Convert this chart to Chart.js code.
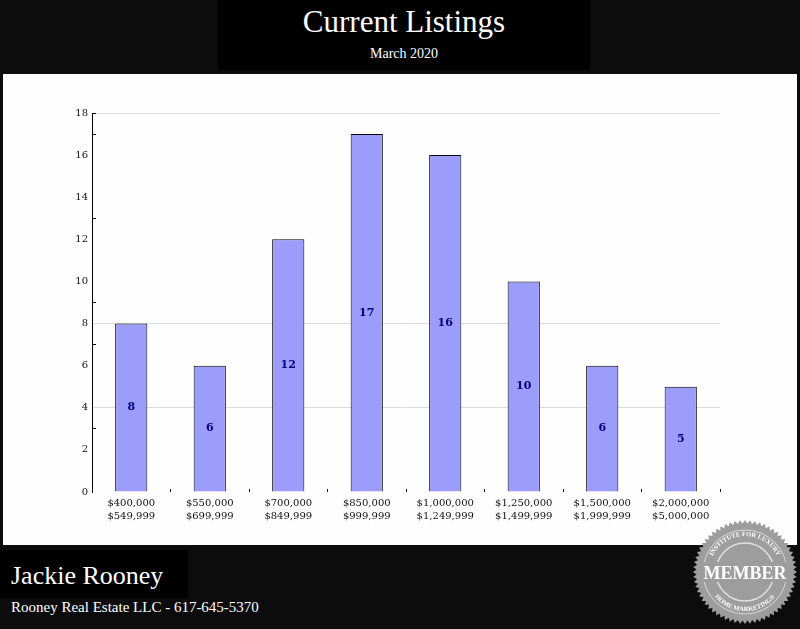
<!DOCTYPE html>
<html>
<head>
<meta charset="utf-8">
<script src="https://cdn.jsdelivr.net/npm/chart.js@4/dist/chart.umd.min.js"></script>
<style>
  html,body{margin:0;padding:0;}
  body{width:800px;height:629px;position:relative;overflow:hidden;background:#0d0c0d;font-family:"Liberation Serif",serif;}
  #titlebox{position:absolute;left:218px;top:0;width:372px;height:70px;background:#020102;color:#fff;text-align:center;}
  #title{position:absolute;left:0;right:0;top:4px;font-size:31px;line-height:36px;}
  #subtitle{position:absolute;left:0;right:0;top:46px;font-size:14px;line-height:16px;}
  #panel{position:absolute;left:3px;top:74px;width:794px;height:471px;background:#fefefe;}
  #wrap{position:absolute;left:0;top:74px;width:800px;height:471px;}
  #namebox{position:absolute;left:0;top:550px;width:188px;height:48px;background:#000;}
  #name{position:absolute;left:11px;top:561px;color:#fff;font-size:26px;line-height:30px;}
  #company{position:absolute;left:11px;top:598px;color:#fff;font-size:15px;line-height:18px;}
  #badge{position:absolute;left:692px;top:519px;width:106px;height:106px;}
</style>
</head>
<body>
<div id="titlebox"><div id="title">Current Listings</div><div id="subtitle">March 2020</div></div>
<div id="panel"></div>
<div id="wrap"><canvas id="c" width="800" height="471"></canvas></div>
<div id="namebox"></div>
<div id="name">Jackie Rooney</div>
<div id="company">Rooney Real Estate LLC - 617-645-5370</div>
<svg id="badge" viewBox="0 0 106 106">
  <defs>
    <path id="topArc" d="M 17 53 A 36 36 0 0 1 89 53"/>
    <path id="botArc" d="M 14 53 A 39 39 0 0 0 92 53"/>
  </defs>
  <polygon id="gear" fill="#9d9d9d"/>
  <circle cx="53" cy="53" r="42" fill="none" stroke="#d8d8d8" stroke-width="1"/>
  <circle cx="53" cy="53" r="29" fill="none" stroke="#e0e0e0" stroke-width="1.5"/>
  <rect x="8" y="43" width="90" height="20" fill="#9d9d9d"/>
  <text x="53" y="60" text-anchor="middle" fill="#fff" font-family="Liberation Serif" font-weight="bold" font-size="18">MEMBER</text>
  <text fill="#fff" font-family="Liberation Serif" font-size="6.5" font-weight="bold"><textPath href="#topArc" startOffset="50%" text-anchor="middle">INSTITUTE FOR LUXURY</textPath></text>
  <text fill="#fff" font-family="Liberation Serif" font-size="6.5" font-weight="bold"><textPath href="#botArc" startOffset="50%" text-anchor="middle">HOME MARKETING®</textPath></text>
</svg>
<script>
// ---- data ----
const categories = [
  ["$400,000", "$549,999"],
  ["$550,000", "$699,999"],
  ["$700,000", "$849,999"],
  ["$850,000", "$999,999"],
  ["$1,000,000", "$1,249,999"],
  ["$1,250,000", "$1,499,999"],
  ["$1,500,000", "$1,999,999"],
  ["$2,000,000", "$5,000,000"]
];
const listings = [8, 6, 12, 17, 16, 10, 6, 5];
const yTickLabels = [0, 2, 4, 6, 8, 10, 12, 14, 16, 18];
const gridValues = [18, 8, 4];
const minorTickValues = [18, 17, 13, 9, 7, 3];

// badge serrated edge (decoration)
(function(){
  const pts = [];
  const n = 64;
  for (let i = 0; i < n * 2; i++) {
    const a = Math.PI * i / n;
    const r = i % 2 === 0 ? 52 : 48.5;
    pts.push((53 + r * Math.cos(a)).toFixed(2) + "," + (53 + r * Math.sin(a)).toFixed(2));
  }
  document.getElementById("gear").setAttribute("points", pts.join(" "));
})();

const valueLabels = {
  id: "valueLabels",
  afterDatasetsDraw(chart) {
    const ctx = chart.ctx;
    const meta = chart.getDatasetMeta(0);
    ctx.save();
    ctx.fillStyle = "#000080";
    ctx.font = "bold 11px 'DejaVu Serif', serif";
    ctx.textAlign = "center";
    ctx.textBaseline = "middle";
    meta.data.forEach((el, i) => {
      const p = el.getProps(["x", "y", "base"], true);
      ctx.fillText(String(listings[i]), p.x, (p.y + p.base) / 2);
    });
    ctx.restore();
  }
};

new Chart(document.getElementById("c"), {
  type: "bar",
  data: {
    labels: categories,
    datasets: [{
      data: listings,
      backgroundColor: "#9c9cfa",
      borderColor: "#000000",
      borderWidth: {left: 1, right: 1, top: 1, bottom: 0},
      borderSkipped: "bottom",
      barPercentage: 0.41,
      categoryPercentage: 1.0
    }]
  },
  options: {
    responsive: false,
    animation: false,
    events: [],
    layout: {padding: {left: 0, right: 80, top: 39, bottom: 0}},
    plugins: {legend: {display: false}, title: {display: false}, tooltip: {enabled: false}},
    scales: {
      x: {
        offset: true,
        border: {display: false},
        grid: {
          offset: true,
          drawOnChartArea: false,
          drawTicks: true,
          tickLength: -3,
          tickColor: "#000"
        },
        ticks: {
          color: "#111",
          font: {family: "'DejaVu Serif', serif", size: 10, lineHeight: 1.3},
          padding: 8,
          maxRotation: 0,
          autoSkip: false
        },
        afterFit(scale) { scale.height = 53; }
      },
      y: {
        min: 0,
        max: 18,
        border: {display: true, color: "#000", width: 1},
        grid: {
          drawTicks: true,
          tickLength: -4,
          color: (ctx) => (ctx.tick && gridValues.includes(ctx.tick.value)) ? "#dcdcdc" : "rgba(0,0,0,0)",
          tickColor: (ctx) => (ctx.tick && minorTickValues.includes(ctx.tick.value)) ? "#000" : "rgba(0,0,0,0)"
        },
        ticks: {
          stepSize: 1,
          autoSkip: false,
          color: "#111",
          padding: 8,
          font: {family: "'DejaVu Serif', serif", size: 10},
          callback: (v) => yTickLabels.includes(v) ? String(v) : ""
        },
        afterFit(scale) { scale.width = 92; }
      }
    }
  },
  plugins: [valueLabels]
});
</script>
</body>
</html>
